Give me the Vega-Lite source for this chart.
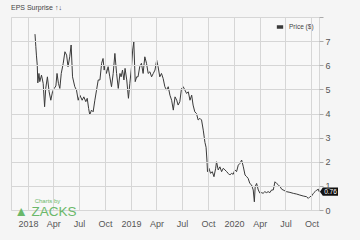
{
  "$schema": "https://vega.github.io/schema/vega-lite/v6.json",
  "width": 308,
  "height": 193,
  "autosize": "none",
  "padding": {"left": 11, "top": 17, "right": 41, "bottom": 30},
  "background": "#f5f5f5",
  "title": {"text": "EPS Surprise ↑↓", "anchor": "start", "frame": "group", "fontSize": 7, "fontWeight": "normal", "color": "#444444", "offset": 2},
  "config": {
    "font": "Liberation Sans",
    "view": {"stroke": "#d6d6d6", "fill": "#f8f8f8"},
    "axis": {"grid": true, "gridColor": "#d6d6d6", "gridWidth": 1, "gridOpacity": 1, "labelOverlap": false, "labelFlush": false, "domain": false}
  },
  "datasets": {
    "price": [
      {"date": "2018-01-26", "price": 7.29}, {"date": "2018-01-29", "price": 6.77}, {"date": "2018-01-31", "price": 6.42},
      {"date": "2018-02-03", "price": 6.00}, {"date": "2018-02-05", "price": 5.27}, {"date": "2018-02-09", "price": 5.66},
      {"date": "2018-02-12", "price": 5.32}, {"date": "2018-02-18", "price": 5.59}, {"date": "2018-02-24", "price": 5.25},
      {"date": "2018-03-01", "price": 4.28}, {"date": "2018-03-05", "price": 5.04}, {"date": "2018-03-11", "price": 5.52},
      {"date": "2018-03-17", "price": 4.90}, {"date": "2018-03-23", "price": 4.55}, {"date": "2018-03-29", "price": 4.90},
      {"date": "2018-04-04", "price": 5.04}, {"date": "2018-04-10", "price": 5.14}, {"date": "2018-04-14", "price": 5.66},
      {"date": "2018-04-19", "price": 5.25}, {"date": "2018-04-24", "price": 5.04}, {"date": "2018-04-29", "price": 5.66},
      {"date": "2018-05-06", "price": 6.08}, {"date": "2018-05-12", "price": 6.56}, {"date": "2018-05-18", "price": 6.42},
      {"date": "2018-05-23", "price": 5.94}, {"date": "2018-05-29", "price": 6.35}, {"date": "2018-06-03", "price": 6.84},
      {"date": "2018-06-08", "price": 5.52}, {"date": "2018-06-16", "price": 5.11}, {"date": "2018-06-22", "price": 4.97},
      {"date": "2018-06-28", "price": 4.55}, {"date": "2018-07-04", "price": 4.76}, {"date": "2018-07-12", "price": 4.55},
      {"date": "2018-07-18", "price": 4.69}, {"date": "2018-07-25", "price": 4.49}, {"date": "2018-07-30", "price": 4.63},
      {"date": "2018-08-04", "price": 4.21}, {"date": "2018-08-08", "price": 3.94}, {"date": "2018-08-14", "price": 4.14},
      {"date": "2018-08-20", "price": 4.07}, {"date": "2018-08-26", "price": 4.55}, {"date": "2018-09-01", "price": 4.97},
      {"date": "2018-09-07", "price": 5.39}, {"date": "2018-09-13", "price": 5.39}, {"date": "2018-09-19", "price": 6.08},
      {"date": "2018-09-24", "price": 6.28}, {"date": "2018-09-28", "price": 5.80}, {"date": "2018-10-01", "price": 6.00},
      {"date": "2018-10-06", "price": 5.66}, {"date": "2018-10-12", "price": 5.94}, {"date": "2018-10-18", "price": 5.52},
      {"date": "2018-10-24", "price": 5.11}, {"date": "2018-10-30", "price": 5.66}, {"date": "2018-11-05", "price": 6.49},
      {"date": "2018-11-11", "price": 5.66}, {"date": "2018-11-17", "price": 5.04}, {"date": "2018-11-23", "price": 5.66},
      {"date": "2018-11-27", "price": 5.52}, {"date": "2018-12-02", "price": 5.80}, {"date": "2018-12-07", "price": 5.39},
      {"date": "2018-12-11", "price": 5.87}, {"date": "2018-12-17", "price": 5.39}, {"date": "2018-12-23", "price": 4.63},
      {"date": "2018-12-28", "price": 5.25}, {"date": "2019-01-03", "price": 5.94}, {"date": "2019-01-07", "price": 6.63},
      {"date": "2019-01-11", "price": 6.97}, {"date": "2019-01-16", "price": 5.32}, {"date": "2019-01-21", "price": 5.52},
      {"date": "2019-01-26", "price": 5.52}, {"date": "2019-02-01", "price": 5.94}, {"date": "2019-02-07", "price": 6.08},
      {"date": "2019-02-13", "price": 5.66}, {"date": "2019-02-19", "price": 6.35}, {"date": "2019-02-25", "price": 6.08},
      {"date": "2019-03-03", "price": 5.66}, {"date": "2019-03-09", "price": 5.73}, {"date": "2019-03-15", "price": 5.52},
      {"date": "2019-03-21", "price": 5.66}, {"date": "2019-03-27", "price": 5.80}, {"date": "2019-04-02", "price": 6.21},
      {"date": "2019-04-07", "price": 5.94}, {"date": "2019-04-13", "price": 5.52}, {"date": "2019-04-19", "price": 5.66},
      {"date": "2019-04-25", "price": 5.45}, {"date": "2019-05-01", "price": 5.11}, {"date": "2019-05-07", "price": 4.97},
      {"date": "2019-05-13", "price": 5.11}, {"date": "2019-05-19", "price": 4.76}, {"date": "2019-05-25", "price": 4.55},
      {"date": "2019-05-31", "price": 4.14}, {"date": "2019-06-06", "price": 4.69}, {"date": "2019-06-12", "price": 4.55},
      {"date": "2019-06-17", "price": 4.35}, {"date": "2019-06-23", "price": 4.49}, {"date": "2019-06-29", "price": 5.04},
      {"date": "2019-07-05", "price": 5.11}, {"date": "2019-07-11", "price": 4.97}, {"date": "2019-07-17", "price": 4.83},
      {"date": "2019-07-23", "price": 4.90}, {"date": "2019-07-29", "price": 4.55}, {"date": "2019-08-04", "price": 4.76},
      {"date": "2019-08-09", "price": 4.35}, {"date": "2019-08-15", "price": 4.07}, {"date": "2019-08-21", "price": 4.00},
      {"date": "2019-08-27", "price": 3.73}, {"date": "2019-09-02", "price": 3.80}, {"date": "2019-09-08", "price": 3.73},
      {"date": "2019-09-14", "price": 3.31}, {"date": "2019-09-20", "price": 2.80}, {"date": "2019-09-24", "price": 2.60},
      {"date": "2019-09-27", "price": 2.07}, {"date": "2019-09-29", "price": 1.59}, {"date": "2019-10-04", "price": 1.73},
      {"date": "2019-10-10", "price": 1.52}, {"date": "2019-10-16", "price": 1.59}, {"date": "2019-10-22", "price": 1.38},
      {"date": "2019-10-28", "price": 1.73}, {"date": "2019-10-31", "price": 2.00}, {"date": "2019-11-06", "price": 1.66},
      {"date": "2019-11-12", "price": 1.79}, {"date": "2019-11-18", "price": 1.59}, {"date": "2019-11-24", "price": 1.73},
      {"date": "2019-11-30", "price": 1.66}, {"date": "2019-12-06", "price": 1.59}, {"date": "2019-12-11", "price": 1.52},
      {"date": "2019-12-17", "price": 1.45}, {"date": "2019-12-23", "price": 1.52}, {"date": "2019-12-29", "price": 1.48},
      {"date": "2020-01-04", "price": 1.66}, {"date": "2020-01-10", "price": 1.59}, {"date": "2020-01-16", "price": 1.86},
      {"date": "2020-01-22", "price": 1.93}, {"date": "2020-01-28", "price": 2.07}, {"date": "2020-02-03", "price": 1.79},
      {"date": "2020-02-09", "price": 1.45}, {"date": "2020-02-15", "price": 1.38}, {"date": "2020-02-20", "price": 1.31},
      {"date": "2020-02-26", "price": 1.10}, {"date": "2020-03-03", "price": 1.04}, {"date": "2020-03-09", "price": 0.83},
      {"date": "2020-03-13", "price": 0.34}, {"date": "2020-03-16", "price": 0.97}, {"date": "2020-03-21", "price": 1.10},
      {"date": "2020-03-27", "price": 0.83}, {"date": "2020-04-02", "price": 0.69}, {"date": "2020-04-08", "price": 0.72},
      {"date": "2020-04-13", "price": 0.69}, {"date": "2020-04-19", "price": 0.76}, {"date": "2020-04-25", "price": 0.72},
      {"date": "2020-05-01", "price": 0.76}, {"date": "2020-05-07", "price": 0.72}, {"date": "2020-05-13", "price": 0.83},
      {"date": "2020-05-19", "price": 0.83}, {"date": "2020-05-25", "price": 1.17}, {"date": "2020-05-31", "price": 1.10},
      {"date": "2020-06-06", "price": 1.04}, {"date": "2020-06-12", "price": 0.97}, {"date": "2020-06-18", "price": 0.86},
      {"date": "2020-06-23", "price": 0.83}, {"date": "2020-07-05", "price": 0.76}, {"date": "2020-07-17", "price": 0.73},
      {"date": "2020-07-29", "price": 0.69}, {"date": "2020-08-10", "price": 0.66}, {"date": "2020-08-21", "price": 0.62},
      {"date": "2020-09-02", "price": 0.58}, {"date": "2020-09-14", "price": 0.55}, {"date": "2020-09-20", "price": 0.48},
      {"date": "2020-09-26", "price": 0.55}, {"date": "2020-10-02", "price": 0.58}, {"date": "2020-10-08", "price": 0.69},
      {"date": "2020-10-14", "price": 0.76}, {"date": "2020-10-20", "price": 0.83}, {"date": "2020-10-26", "price": 0.86},
      {"date": "2020-10-28", "price": 0.76}
    ]
  },
  "data": {"name": "price"},
  "encoding": {
    "x": {
      "field": "date", "type": "temporal",
      "scale": {"type": "utc", "domain": [{"year": 2017, "month": 11, "date": 2, "utc": true}, {"year": 2020, "month": 10, "date": 28, "utc": true}]},
      "axis": {
        "title": "▲ ZACKS", "titleX": 3, "titleY": 1, "titleAlign": "left", "titleBaseline": "middle", "titleAnchor": null,
        "titleFontSize": 13.5, "titleFontWeight": "normal", "titleColor": "#6ab86a",
        "orient": "bottom", "domain": false, "ticks": false, "zindex": 1,
        "tickCount": {"interval": "month", "step": 3},
        "labelExpr": "utcFormat(datum.value, '%m') == '01' ? utcFormat(datum.value, '%Y') : utcFormat(datum.value, '%b')",
        "labelFontSize": 9, "labelColor": "#555555", "labelPadding": 9,
        "grid": true, "gridColor": "#d6d6d6", "gridWidth": 1, "gridOpacity": 1, "labelFlush": false, "labelOverlap": false
      }
    },
    "y": {
      "field": "price", "type": "quantitative",
      "scale": {"domain": [0, 8], "nice": false, "zero": true},
      "axis": {
        "title": "Charts by", "titleX": -272, "titleY": 183, "titleAngle": 0, "titleAlign": "center", "titleBaseline": "middle", "titleAnchor": null,
        "titleFontSize": 6, "titleFontWeight": "normal", "titleColor": "#6ab86a",
        "orient": "right", "domain": false, "tickCount": 8, "zindex": 1,
        "labelExpr": "datum.value >= 8 ? '' : datum.label",
        "tickSize": 4, "tickColor": "#aaaaaa", "labelPadding": 2, "labelFontSize": 9, "labelColor": "#555555",
        "grid": true, "gridColor": "#d6d6d6", "gridWidth": 1, "gridOpacity": 1, "labelOverlap": false, "labelFlush": false
      }
    }
  },
  "layer": [
    {
      "mark": {"type": "line", "strokeWidth": 1, "interpolate": "linear"},
      "encoding": {
        "color": {
          "datum": "Price ($)", "type": "nominal",
          "scale": {"range": ["#3a3a3a"]},
          "legend": {"title": null, "orient": "top-right", "offset": 5, "padding": 0, "labelFontSize": 6.5, "labelColor": "#444444", "symbolType": "stroke", "symbolStrokeWidth": 3.5, "symbolSize": 40, "labelOffset": 4}
        }
      }
    },
    {
      "transform": [{"filter": "utcyear(datum.date) == 2020 && utcmonth(datum.date) == 9 && utcdate(datum.date) == 28"}],
      "mark": {"type": "point", "shape": "M0.05,0 L0.2,-0.22 H1 V0.22 H0.2 Z", "filled": true, "color": "#111111", "opacity": 1, "size": 1444},
      "encoding": {}
    },
    {
      "transform": [{"filter": "utcyear(datum.date) == 2020 && utcmonth(datum.date) == 9 && utcdate(datum.date) == 28"}],
      "mark": {"type": "text", "color": "#ffffff", "fontSize": 6.5, "dx": 11.5, "align": "center", "baseline": "middle"},
      "encoding": {
        "text": {"field": "price", "type": "quantitative", "format": ".2f"}
      }
    }
  ]
}
